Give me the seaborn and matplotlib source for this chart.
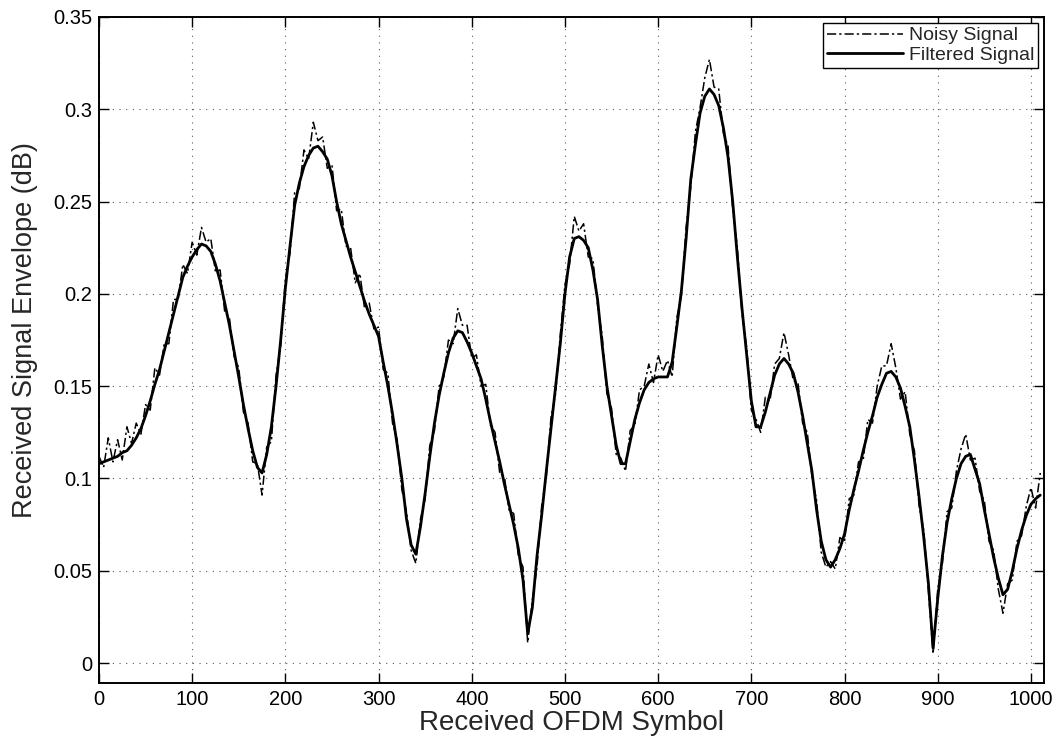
import numpy as np
import pandas as pd
import matplotlib
matplotlib.use("Agg")
import matplotlib.pyplot as plt
import seaborn as sns
from matplotlib.ticker import FuncFormatter

# OFDM symbol index (every 5th symbol)
symbols = list(range(0, 1011, 5))

filtered = [
    .108, .109, .110, .111, .112, .114, .115, .118, .122, .127,
    .134, .142, .151, .159, .169, .179, .189, .199, .209, .215,
    .220, .224, .227, .226, .223, .216, .207, .195, .183, .169,
    .155, .140, .127, .115, .106, .103, .113, .128, .150, .175,
    .203, .226, .248, .260, .269, .275, .279, .280, .277, .273,
    .264, .250, .238, .229, .220, .212, .204, .196, .189, .183,
    .177, .163, .150, .135, .118, .100, .078, .064, .059, .074,
    .092, .112, .130, .145, .157, .168, .176, .180, .179, .174,
    .168, .161, .154, .143, .131, .120, .109, .097, .086, .075,
    .062, .045, .016, .030, .058, .080, .104, .127, .150, .173,
    .200, .220, .230, .231, .229, .225, .213, .197, .172, .150,
    .134, .118, .108, .108, .120, .132, .141, .148, .152, .154,
    .155, .155, .155, .163, .182, .202, .230, .262, .281, .298,
    .307, .311, .308, .302, .290, .274, .250, .220, .192, .167,
    .142, .128, .128, .136, .146, .156, .162, .165, .162, .157,
    .147, .134, .119, .104, .083, .066, .056, .052, .056, .062,
    .070, .083, .094, .104, .115, .125, .134, .144, .151, .157,
    .158, .155, .149, .139, .128, .110, .090, .068, .043, .008,
    .035, .058, .076, .089, .100, .108, .112, .113, .105, .097,
    .083, .070, .057, .046, .037, .040, .050, .062, .072, .080,
    .086, .089, .091,
]

noisy = [
    .112, .106, .122, .109, .121, .110, .128, .119, .130, .124,
    .140, .137, .160, .156, .173, .173, .197, .197, .216, .211,
    .228, .221, .236, .228, .230, .212, .213, .190, .187, .166,
    .160, .136, .130, .109, .108, .091, .117, .120, .156, .172,
    .208, .222, .255, .257, .278, .273, .293, .283, .285, .268,
    .270, .245, .246, .226, .225, .206, .211, .192, .195, .181,
    .182, .159, .157, .130, .121, .094, .082, .061, .054, .078,
    .089, .118, .126, .150, .155, .175, .173, .192, .183, .183,
    .165, .167, .150, .151, .129, .125, .103, .101, .083, .081,
    .058, .052, .011, .034, .052, .085, .101, .133, .146, .178,
    .205, .216, .242, .234, .238, .220, .219, .194, .177, .146,
    .138, .113, .111, .104, .126, .129, .148, .150, .162, .152,
    .167, .158, .164, .155, .187, .199, .236, .258, .288, .301,
    .317, .327, .312, .311, .287, .280, .246, .225, .189, .171,
    .137, .132, .125, .144, .142, .162, .165, .179, .167, .153,
    .152, .130, .125, .101, .088, .060, .052, .055, .051, .068,
    .066, .089, .091, .109, .110, .132, .130, .150, .161, .161,
    .173, .160, .143, .147, .124, .115, .085, .072, .039, .005,
    .040, .054, .082, .084, .104, .116, .124, .110, .111, .093,
    .088, .066, .061, .040, .027, .043, .045, .066, .069, .085,
    .095, .084, .103,
]

x_ticks = [0, 100, 200, 300, 400, 500, 600, 700, 800, 900, 1000]
y_ticks = [0, 0.05, 0.1, 0.15, 0.2, 0.25, 0.3, 0.35]

sns.set_style("ticks")
plt.rcParams['font.family'] = ['Liberation Sans', 'DejaVu Sans']

fig = plt.figure(figsize=(10.64, 7.42), dpi=100)
ax = fig.add_axes([0.093, 0.0795, 0.8882, 0.8976])

df = pd.DataFrame({"symbol": symbols, "noisy": noisy, "filtered": filtered})

dashdot = (0, (6, 2, 1.5, 2))
sns.lineplot(data=df, x="symbol", y="noisy", ax=ax, color="black",
             linewidth=1.1, dashes=False, label="Noisy Signal",
             estimator=None, sort=False)
ax.lines[-1].set_linestyle(dashdot)
sns.lineplot(data=df, x="symbol", y="filtered", ax=ax, color="black",
             linewidth=2.0, linestyle="-", label="Filtered Signal",
             estimator=None, sort=False)

ax.set_xlim(0, 1014)
ax.set_ylim(-0.0108, 0.35)
ax.set_xticks(x_ticks)
ax.set_yticks(y_ticks)
ax.yaxis.set_major_formatter(FuncFormatter(lambda v, p: f"{v:g}"))
ax.tick_params(direction="in", top=True, right=True, length=7, width=1,
               labelsize=14.5, colors="black", pad=5)
ax.grid(True, linestyle=(0, (1, 5)), color="0.35", linewidth=0.8)
for s in ax.spines.values():
    s.set_color("black")
    s.set_linewidth(1.4)

ax.set_xlabel("Received OFDM Symbol", fontsize=20, labelpad=1)
ax.set_ylabel("Received Signal Envelope (dB)", fontsize=19.5)
ax.yaxis.set_label_coords(-0.064, 0.53)

leg = ax.legend(loc="upper right", fontsize=14, frameon=True, fancybox=False,
                edgecolor="black", framealpha=1, handlelength=3.9,
                borderaxespad=0.3, borderpad=0.2, labelspacing=0.1,
                handletextpad=0.3)
leg.get_frame().set_linewidth(1.0)
leg.get_lines()[0].set_linestyle(dashdot)

fig.savefig("out.png", dpi=100)
